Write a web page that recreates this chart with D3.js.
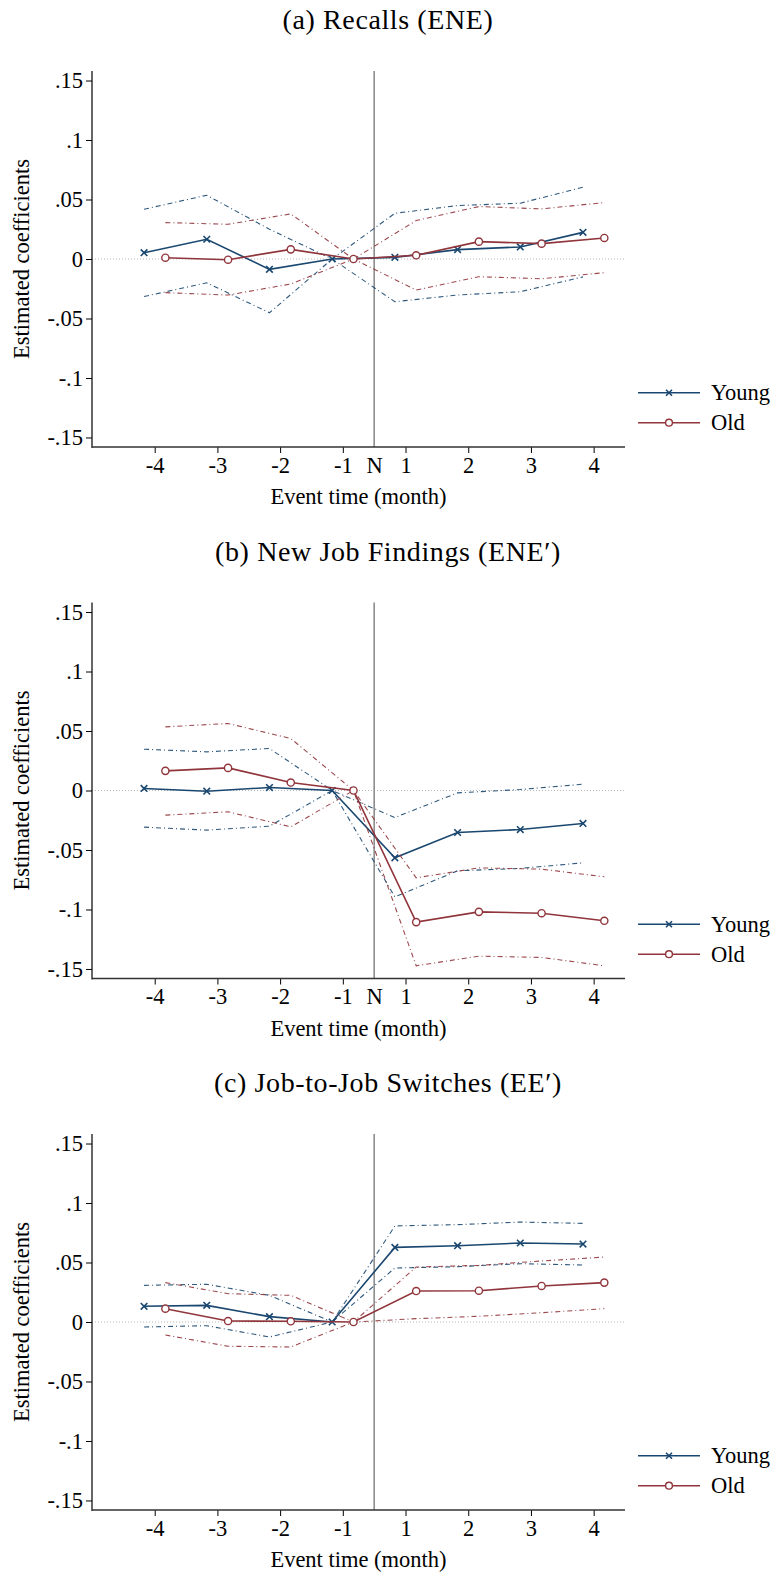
<!DOCTYPE html>
<html>
<head>
<meta charset="utf-8">
<script src="https://cdn.jsdelivr.net/npm/d3@7"></script>
<style>
  html, body { margin: 0; padding: 0; background: #fff; }
  svg { display: block; }
</style>
</head>
<body>
<svg id="chart" width="776" height="1575"></svg>
<script>
// Event time (months relative to notification N)
const eventTimes = [-4, -3, -2, -1, 1, 2, 3, 4];
const xTickLabels = ["-4", "-3", "-2", "-1", "N", "1", "2", "3", "4"];
const yTicks = [0.15, 0.1, 0.05, 0, -0.05, -0.1, -0.15];
const yTickLabels = [".15", ".1", ".05", "0", "-.05", "-.1", "-.15"];
const groups = ["Young", "Old"];

const panelTitles = ["(a) Recalls (ENE)", "(b) New Job Findings (ENE\u2032)", "(c) Job-to-Job Switches (EE\u2032)"];
const showNLabel = [true, true, false];

// (a) Recalls
const recallsYoung   = [0.0053, 0.0166, -0.0087, 0, 0.0014, 0.0079, 0.0101, 0.0224];
const recallsYoungLo = [-0.0315, -0.0200, -0.0452, 0, -0.0359, -0.0303, -0.0275, -0.0150];
const recallsYoungHi = [0.0418, 0.0536, 0.0250, 0, 0.0384, 0.0449, 0.0469, 0.0603];
const recallsOld     = [0.0011, -0.0006, 0.0081, 0, 0.0031, 0.0146, 0.0129, 0.0177];
const recallsOldLo   = [-0.0283, -0.0303, -0.0210, 0, -0.0261, -0.0149, -0.0166, -0.0115];
const recallsOldHi   = [0.0306, 0.0292, 0.0379, 0, 0.0323, 0.0441, 0.0421, 0.0474];

// (b) New job findings
const findingsYoung   = [0.0017, -0.0006, 0.0025, 0, -0.0566, -0.0353, -0.0328, -0.0277];
const findingsYoungLo = [-0.0308, -0.0333, -0.0300, 0, -0.0894, -0.0675, -0.0655, -0.0608];
const findingsYoungHi = [0.0347, 0.0325, 0.0353, 0, -0.0227, -0.0020, 0.0008, 0.0053];
const findingsOld     = [0.0165, 0.0190, 0.0067, 0, -0.1106, -0.1020, -0.1031, -0.1095];
const findingsOldLo   = [-0.0207, -0.0179, -0.0305, 0, -0.1473, -0.1392, -0.1403, -0.1473];
const findingsOldHi   = [0.0535, 0.0563, 0.0437, 0, -0.0734, -0.0650, -0.0661, -0.0725];

// (c) Job-to-job switches
const switchesYoung   = [0.0132, 0.0140, 0.0045, 0, 0.0627, 0.0641, 0.0664, 0.0655];
const switchesYoungLo = [-0.0042, -0.0031, -0.0126, 0, 0.0454, 0.0465, 0.0490, 0.0479];
const switchesYoungHi = [0.0308, 0.0317, 0.0224, 0, 0.0807, 0.0818, 0.0840, 0.0829];
const switchesOld     = [0.0112, 0.0008, 0.0006, 0, 0.0260, 0.0263, 0.0303, 0.0331];
const switchesOldLo   = [-0.0109, -0.0204, -0.0210, 0, 0.0028, 0.0048, 0.0078, 0.0112];
const switchesOldHi   = [0.0331, 0.0238, 0.0224, 0, 0.0462, 0.0476, 0.0513, 0.0546];

const panels = [
  { young: [recallsYoung, recallsYoungLo, recallsYoungHi], old: [recallsOld, recallsOldLo, recallsOldHi] },
  { young: [findingsYoung, findingsYoungLo, findingsYoungHi], old: [findingsOld, findingsOldLo, findingsOldHi] },
  { young: [switchesYoung, switchesYoungLo, switchesYoungHi], old: [switchesOld, switchesOldLo, switchesOldHi] }
];

const colors = { Young: "#1a476f", Old: "#90353b" };
const dodge = { Young: -0.17, Old: 0.17 };
const serif = "'Liberation Serif', 'Times New Roman', Times, serif";

// Event times sit at evenly spaced slots; N lies halfway between -1 and 1
const slot = d3.scaleOrdinal().domain(eventTimes).range(d3.range(eventTimes.length));
const nSlot = 3.5;
const tickSlots = [0, 1, 2, 3, nSlot, 4, 5, 6, 7];

const svg = d3.select("#chart");
const left = 92, right = 625, half = 188;
const panelZero = [259, 790.5, 1322];
const fontSize = 22.5;

panels.forEach((p, i) => {
  const zeroY = panelZero[i];
  const g = svg.append("g");
  const x = d3.scaleLinear().domain([-1, 7.5]).range([left, right]);
  const y = d3.scaleLinear().domain([-0.158, 0.158]).range([zeroY + half, zeroY - half]);

  // title
  g.append("text")
    .attr("x", 388).attr("y", zeroY - 230)
    .attr("text-anchor", "middle")
    .style("font-size", "28px")
    .style("letter-spacing", "0.6px")
    .text(panelTitles[i]);

  // zero reference line
  g.append("line")
    .attr("x1", left).attr("x2", right)
    .attr("y1", y(0)).attr("y2", y(0))
    .attr("stroke", "#b8b8b8").attr("stroke-width", 1)
    .attr("stroke-dasharray", "1,2");

  // notification month line
  g.append("line")
    .attr("x1", x(nSlot)).attr("x2", x(nSlot))
    .attr("y1", zeroY - half).attr("y2", zeroY + half)
    .attr("stroke", "#8c8c8c").attr("stroke-width", 1.6);

  // y axis
  const yAxis = d3.axisLeft(y).tickValues(yTicks)
    .tickFormat((d, k) => yTickLabels[k]).tickSize(6).tickPadding(3);
  const ya = g.append("g").attr("transform", `translate(${left},0)`).call(yAxis);
  ya.select(".domain").remove();
  ya.append("line").attr("x1", 0).attr("x2", 0)
    .attr("y1", zeroY - half).attr("y2", zeroY + half + 1)
    .attr("stroke", "#000").attr("stroke-width", 1.2);
  ya.selectAll(".tick line").attr("stroke", "#000").attr("stroke-width", 1);

  // x axis
  const xVals = showNLabel[i] ? tickSlots : tickSlots.filter(s => s !== nSlot);
  const xLabels = showNLabel[i] ? xTickLabels : xTickLabels.filter(l => l !== "N");
  const xAxis = d3.axisBottom(x).tickValues(xVals)
    .tickFormat((d, k) => xLabels[k]).tickSize(6).tickPadding(4);
  const xa = g.append("g").attr("transform", `translate(0,${zeroY + half})`).call(xAxis);
  xa.select(".domain").remove();
  xa.append("line").attr("x1", left).attr("x2", right)
    .attr("y1", 0).attr("y2", 0)
    .attr("stroke", "#333").attr("stroke-width", 1.4);
  xa.selectAll(".tick line").attr("stroke", "#000").attr("stroke-width", 1);
  xa.selectAll(".tick").filter(d => d === nSlot).select("line").remove();

  [ya, xa].forEach(a => {
    a.attr("font-family", serif).attr("font-size", fontSize);
    a.selectAll(".tick text").attr("fill", "#000");
  });

  // axis titles
  g.append("text")
    .attr("x", (left + right) / 2).attr("y", zeroY + half + 57)
    .attr("text-anchor", "middle")
    .style("font-size", fontSize + "px")
    .text("Event time (month)");
  g.append("text")
    .attr("transform", `translate(29,${zeroY}) rotate(-90)`)
    .attr("text-anchor", "middle")
    .style("font-size", fontSize + "px")
    .text("Estimated coefficients");

  // series: confidence bounds (dash-dot) and point estimates
  groups.forEach(name => {
    const [est, lo, hi] = name === "Young" ? p.young : p.old;
    const col = colors[name];
    const px = k => x(slot(eventTimes[k]) + dodge[name]);
    const line = arr => d3.line().x((d, k) => px(k)).y(d => y(d))(arr);

    [lo, hi].forEach(bound => {
      g.append("path").attr("d", line(bound))
        .attr("fill", "none").attr("stroke", col)
        .attr("stroke-width", 1.1).attr("stroke-opacity", 0.9)
        .attr("stroke-dasharray", "5,3,1,3");
    });

    g.append("path").attr("d", line(est))
      .attr("fill", "none").attr("stroke", col).attr("stroke-width", 1.6);

    est.forEach((v, k) => {
      const cx = px(k), cy = y(v);
      if (name === "Young") {
        const s = 3.3;
        g.append("path")
          .attr("d", `M${cx - s},${cy - s}L${cx + s},${cy + s}M${cx - s},${cy + s}L${cx + s},${cy - s}`)
          .attr("stroke", col).attr("stroke-width", 1.6).attr("fill", "none");
      } else {
        g.append("circle").attr("cx", cx).attr("cy", cy).attr("r", 3.6)
          .attr("fill", "#fff").attr("stroke", col).attr("stroke-width", 1.4);
      }
    });
  });

  // legend
  groups.forEach((name, k) => {
    const ly = zeroY + 133.7 + k * 30;
    const col = colors[name];
    const lg = g.append("g");
    lg.append("line").attr("x1", 638).attr("x2", 700)
      .attr("y1", ly).attr("y2", ly)
      .attr("stroke", col).attr("stroke-width", 1.6);
    if (name === "Young") {
      const s = 3;
      lg.append("path")
        .attr("d", `M${669 - s},${ly - s}L${669 + s},${ly + s}M${669 - s},${ly + s}L${669 + s},${ly - s}`)
        .attr("stroke", col).attr("stroke-width", 1.6);
    } else {
      lg.append("circle").attr("cx", 669).attr("cy", ly).attr("r", 3.4)
        .attr("fill", "#fff").attr("stroke", col).attr("stroke-width", 1.4);
    }
    lg.append("text").attr("x", 711).attr("y", ly + 7.5)
      .style("font-size", fontSize + "px").text(name);
  });
});

// serif typeface for every label
svg.selectAll("text").style("font-family", serif).style("fill", "#000");
</script>
</body>
</html>
